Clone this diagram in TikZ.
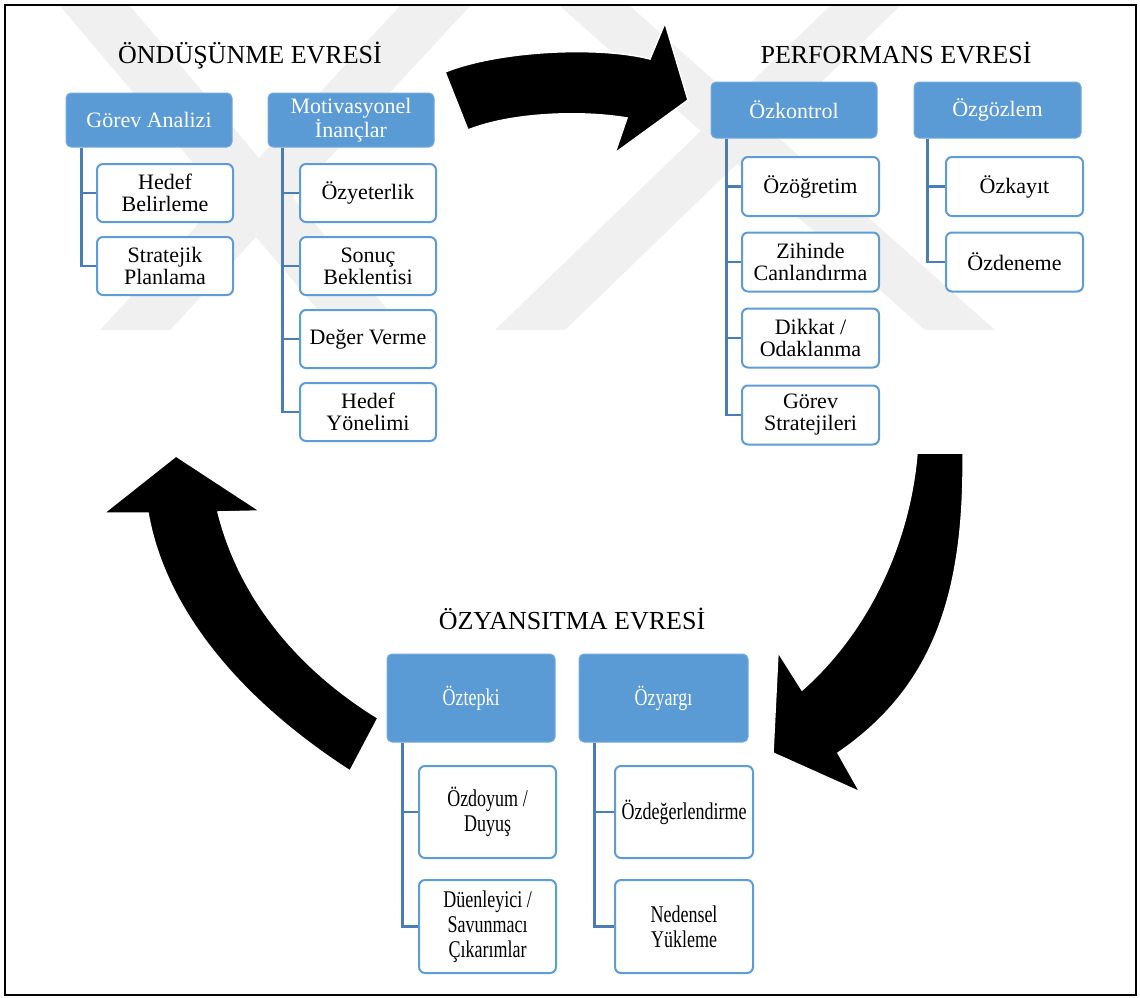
\documentclass[tikz,border=0pt]{standalone}
\usepackage{fontspec}
\setmainfont{Liberation Serif}
\newfontfamily\condfont[FakeStretch=0.75]{Liberation Serif}
\definecolor{hblue}{HTML}{5B9BD5}
\definecolor{cblue}{HTML}{5E9CD8}
\definecolor{lblue}{HTML}{4A7DB8}
\definecolor{wmark}{HTML}{F0F0F0}
\begin{document}
\begin{tikzpicture}[x=1pt,y=-1pt,
  hdr/.style={fill=hblue, draw=hblue!85!white, line width=1pt, rounded corners=5pt,
    text=white, align=center, inner sep=1pt, font=\fontsize{22}{22}\selectfont},
  child/.style={draw=cblue, line width=2pt, fill=white, rounded corners=6pt,
    align=center, inner sep=1pt, font=\fontsize{22}{22}\selectfont},
  bhdr/.style={hdr, font=\condfont\fontsize{24}{25}\selectfont},
  bchild/.style={child, font=\condfont\fontsize{24}{25}\selectfont},
  conn/.style={draw=lblue, line width=2.5pt},
  ttl/.style={anchor=base, inner sep=0pt, font=\fontsize{26}{26}\selectfont},
  bigarrow/.style={fill=black, draw=white, line width=1.5pt, line join=miter},
  wm/.style={fill=wmark}
]
\useasboundingbox (0,0) rectangle (1140,997);
\fill[white] (0,0) rectangle (1140,997);

% faint watermark
\fill[wm] (60,6) -- (130,6) -- (405,330) -- (335,330) -- cycle;
\fill[wm] (400,6) -- (470,6) -- (170,330) -- (100,330) -- cycle;
\fill[wm] (560,6) -- (630,6) -- (995,330) -- (925,330) -- cycle;
\fill[wm] (830,6) -- (900,6) -- (565,330) -- (495,330) -- cycle;

% frame
\draw[line width=1.5pt] (5,5) rectangle (1136,995);

% titles
\node[ttl] (t1) at (250,63) {ÖNDÜŞÜNME EVRESİ};
\node[ttl] (t2) at (896,63) {PERFORMANS EVRESİ};
\node[ttl] (t3) at (572,629) {ÖZYANSITMA EVRESİ};

% left group
\node[hdr, minimum width=166, minimum height=54] (ga) at (149,120) {Görev Analizi};
\node[hdr, minimum width=166, minimum height=54] (mi) at (351,120) {Motivasyonel\\İnançlar};
\node[child, minimum width=136, minimum height=58] (hb) at (165,193) {Hedef\\Belirleme};
\node[child, minimum width=136, minimum height=58] (sp) at (165,266) {Stratejik\\Planlama};
\node[child, minimum width=136, minimum height=58] (oy) at (368,193) {Özyeterlik};
\node[child, minimum width=136, minimum height=58] (sb) at (368,266) {Sonuç\\Beklentisi};
\node[child, minimum width=136, minimum height=58] (dv) at (368,339) {Değer Verme};
\node[child, minimum width=136, minimum height=58] (hy) at (368,412) {Hedef\\Yönelimi};

\draw[conn] ([xshift=16pt]ga.south west) |- (sp.west);
\draw[conn] ([xshift=16pt]ga.south west) |- (hb.west);
\draw[conn] ([xshift=15pt]mi.south west) |- (hy.west);
\draw[conn] ([xshift=15pt]mi.south west) |- (oy.west);
\draw[conn] ([xshift=15pt]mi.south west) |- (sb.west);
\draw[conn] ([xshift=15pt]mi.south west) |- (dv.west);

% right group
\node[hdr, minimum width=166, minimum height=56] (okh) at (794,110) {Özkontrol};
\node[hdr, minimum width=167, minimum height=56] (ogh) at (997.5,110) {Özgözlem};
\node[child, minimum width=137, minimum height=59] (oo) at (810.5,186.5) {Özöğretim};
\node[child, minimum width=137, minimum height=59] (zc) at (810.5,262) {Zihinde\\Canlandırma};
\node[child, minimum width=137, minimum height=59] (dko) at (810.5,338) {Dikkat /\\Odaklanma};
\node[child, minimum width=137, minimum height=59] (gst) at (810.5,415) {Görev\\Stratejileri};
\node[child, minimum width=137, minimum height=59] (oka) at (1014.5,186.5) {Özkayıt};
\node[child, minimum width=137, minimum height=59] (ode) at (1014.5,262) {Özdeneme};

\draw[conn] ([xshift=16pt]okh.south west) |- (gst.west);
\draw[conn] ([xshift=16pt]okh.south west) |- (oo.west);
\draw[conn] ([xshift=16pt]okh.south west) |- (zc.west);
\draw[conn] ([xshift=16pt]okh.south west) |- (dko.west);
\draw[conn] ([xshift=14pt]ogh.south west) |- (ode.west);
\draw[conn] ([xshift=14pt]ogh.south west) |- (oka.west);

% bottom group
\node[bhdr, minimum width=168, minimum height=88] (oth) at (471,698) {Öztepki};
\node[bhdr, minimum width=169, minimum height=88] (oyh) at (663.5,698) {Özyargı};
\node[bchild, minimum width=137, minimum height=92] (odd) at (487.5,812) {Özdoyum /\\Duyuş};
\node[bchild, minimum width=137, minimum height=93] (dsc) at (487.5,926.5) {Düenleyici /\\Savunmacı\\Çıkarımlar};
\node[bchild, minimum width=138, minimum height=92] (odg) at (684,812) {Özdeğerlendirme};
\node[bchild, minimum width=138, minimum height=93] (nyk) at (684,926.5) {Nedensel\\Yükleme};

\draw[conn] ([xshift=16pt]oth.south west) |- (dsc.west);
\draw[conn] ([xshift=16pt]oth.south west) |- (odd.west);
\draw[conn] ([xshift=16pt]oyh.south west) |- (nyk.west);
\draw[conn] ([xshift=16pt]oyh.south west) |- (odg.west);

% big curved arrows
\filldraw[bigarrow] (445,72) .. controls (500,50) and (600,46) .. (650,59)
  -- (665,23) -- (688,100) -- (615,153) -- (627,118)
  .. controls (580,110) and (510,113) .. (468,130) -- cycle;

\filldraw[bigarrow] (917,453) -- (963,453)
  .. controls (965,600) and (930,690) .. (838,753)
  -- (860,792) -- (773,753) -- (778,652) -- (802,690)
  .. controls (870,630) and (910,540) .. (917,453) -- cycle;

\filldraw[bigarrow] (378,718) -- (350,771)
  .. controls (240,700) and (165,610) .. (148,513)
  -- (104,513) -- (176,456) -- (260,511) -- (218,512)
  .. controls (240,600) and (300,670) .. (378,718) -- cycle;
\end{tikzpicture}
\end{document}
